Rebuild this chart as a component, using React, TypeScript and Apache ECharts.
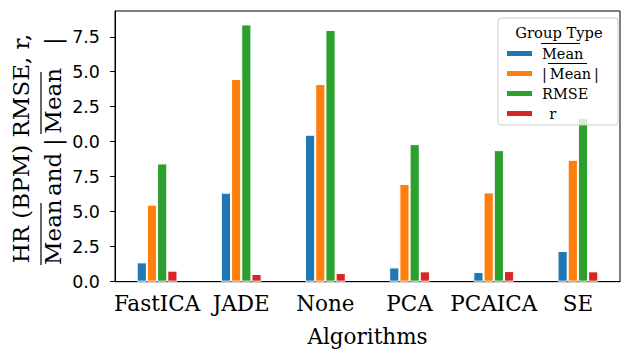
import React, { useEffect, useRef } from "react";
import * as echarts from "echarts";

const categories = ["FastICA", "JADE", "None", "PCA", "PCAICA", "SE"];
const seriesNames = ["Mean", "|Mean|", "RMSE", "r"];
const meanVals = [1.38, 6.36, 10.5, 1.02, 0.69, 2.19];
const absMeanVals = [5.5, 14.48, 14.12, 6.98, 6.38, 8.71];
const rmseVals = [8.45, 18.38, 17.98, 9.83, 9.4, 11.71];
const rVals = [0.79, 0.55, 0.62, 0.74, 0.76, 0.74];
const seriesColors = ["#1f77b4", "#ff7f0e", "#2ca02c", "#d62728"];
const yTickValues = [0, 2.5, 5, 7.5, 10, 12.5, 15, 17.5];
const yTickLabels = ["0.0", "2.5", "5.0", "7.5", "0.0", "2.5", "5.0", "7.5"];
const yMax = 19.34;

const SERIF = "DejaVu Serif";
const SANS = "DejaVu Sans";

export default function App() {
  const ref = useRef<HTMLDivElement>(null);
  useEffect(() => {
    if (!ref.current) return;
    const chart = echarts.init(ref.current, undefined, { renderer: "svg" });
    const allVals = [meanVals, absMeanVals, rmseVals, rVals];
    const vText = (text: string, x: number, y: number) => ({
      type: "text",
      x,
      y,
      rotation: Math.PI / 2,
      style: { text, fontFamily: SERIF, fontSize: 23, fill: "#000", align: "left", verticalAlign: "middle" },
    });
    const option: any = {
      animation: false,
      backgroundColor: "#fff",
      grid: {
        left: 115,
        right: 2,
        top: 11,
        bottom: 68.3,
        show: true,
        borderColor: "#000",
        borderWidth: 1,
        backgroundColor: "transparent",
        outerBoundsMode: "none",
        containLabel: false,
      },
      xAxis: {
        type: "category",
        data: categories,
        name: "Algorithms",
        nameLocation: "middle",
        nameGap: 44,
        nameTextStyle: { fontFamily: SERIF, fontSize: 21.5, color: "#000" },
        axisLine: { lineStyle: { color: "#000", width: 1 } },
        axisTick: { alignWithLabel: true, length: 5, lineStyle: { color: "#000" } },
        axisLabel: { interval: 0, fontFamily: SERIF, fontSize: 21.5, color: "#000", margin: 11 },
      },
      yAxis: {
        type: "value",
        min: 0,
        max: yMax,
        splitLine: { show: false },
        axisLine: { show: true, lineStyle: { color: "#000", width: 1 } },
        axisTick: {
          show: true,
          length: 5,
          lineStyle: { color: "#000" },
          customValues: yTickValues,
        },
        axisLabel: {
          fontFamily: SANS,
          fontSize: 17.5,
          color: "#000",
          margin: 15,
          customValues: yTickValues,
          formatter: (v: number) => {
            const i = yTickValues.findIndex((t) => Math.abs(t - v) < 1e-6);
            return i >= 0 ? yTickLabels[i] : "";
          },
        },
      },
      legend: {
        orient: "vertical",
        left: 505,
        top: 46,
        padding: 0,
        itemWidth: 27,
        itemHeight: 7,
        itemGap: 5,
        icon: "rect",
        z: 20,
        data: seriesNames,
        formatter: (name: string) => (name === "|Mean|" ? "|\u2009Mean\u2009|" : name === "r" ? "\u2002r" : name),
        textStyle: { fontFamily: SERIF, fontSize: 14.5, color: "#000", padding: [0, 0, 0, 4] },
      },
      series: seriesNames.map((name, i) => ({
        name,
        type: "bar",
        data: allVals[i],
        barWidth: 10.2,
        barGap: "0%",
        itemStyle: { color: seriesColors[i], borderColor: "#fff", borderWidth: 1 },
        z: 2,
      })),
      graphic: [
        {
          type: "rect",
          z: 10,
          shape: { x: 498, y: 18, width: 120, height: 107, r: 3 },
          style: { fill: "rgba(255,255,255,0.8)", stroke: "#cccccc", lineWidth: 1 },
        },
        {
          type: "text",
          z: 20,
          x: 559,
          y: 32,
          style: {
            text: "Group Type",
            fontFamily: SERIF,
            fontSize: 14.7,
            fill: "#000",
            align: "center",
            verticalAlign: "middle",
          },
        },
        {
          type: "line",
          z: 20,
          shape: { x1: 541, y1: 43.5, x2: 580, y2: 43.5 },
          style: { stroke: "#000", lineWidth: 1 },
        },
        {
          type: "line",
          z: 20,
          shape: { x1: 548, y1: 63.5, x2: 587, y2: 63.5 },
          style: { stroke: "#000", lineWidth: 1 },
        },
        {
          type: "text",
          x: 21,
          y: 148.5,
          rotation: Math.PI / 2,
          style: {
            text: "HR (BPM) RMSE, r,",
            fontFamily: SERIF,
            fontSize: 23,
            fill: "#000",
            align: "center",
            verticalAlign: "middle",
          },
        },
        vText("Mean", 53, 265),
        vText("and", 53, 196),
        vText("|\u2009Mean\u2003|", 53, 146),
        {
          type: "line",
          shape: { x1: 41, y1: 265, x2: 41, y2: 203 },
          style: { stroke: "#000", lineWidth: 1.2 },
        },
        {
          type: "line",
          shape: { x1: 41, y1: 134, x2: 41, y2: 72 },
          style: { stroke: "#000", lineWidth: 1.2 },
        },
      ],
    };
    chart.setOption(option);
    return () => chart.dispose();
  }, []);
  return (
    <div
      ref={ref}
      style={{ position: "fixed", left: 0, top: 0, width: 622, height: 350 }}
    />
  );
}
